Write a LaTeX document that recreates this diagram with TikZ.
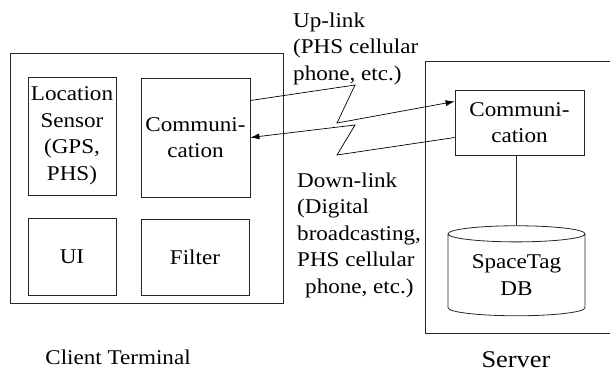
\documentclass[tikz,border=0pt]{standalone}
\usepackage{fontspec}
\setmainfont{Liberation Serif}[FakeStretch=1.1]
\usetikzlibrary{positioning,shapes.geometric,arrows.meta}

\begin{document}
\begin{tikzpicture}[x=1pt,y=-1pt,font=\fontsize{21}{26.5}\selectfont]
\tikzstyle{box}=[rectangle, draw=black!85, line width=0.8pt, inner sep=0pt, align=center]
\tikzstyle{connect}=[-{Latex[length=9pt,width=6pt]}, line width=0.7pt]
\tikzstyle{wire}=[line width=0.7pt, draw=black!85]
\tikzstyle{caption}=[anchor=base west, align=left, inner sep=0pt]

\useasboundingbox (0,0) rectangle (610,372);

% 1. Frames
%%%%%%%%%%%
\node[box, minimum width=273pt, minimum height=250pt] (client) at (146.5,178) {};
\node[box, minimum width=200pt, minimum height=272pt] (server) at (525,197) {};

% 2. Nodes
%%%%%%%%%%
\node[box, minimum width=88pt, minimum height=118pt] (loc) at (72,136) {Location\\Sensor\\(GPS,\\PHS)};
\node[box, minimum width=109pt, minimum height=119pt] (comm) at (195.5,137.5) {Communi-\\cation};
\node[box, minimum width=88pt, minimum height=77pt] (ui) at (72,256.5) {UI};
\node[box, minimum width=108pt, minimum height=76pt] (filter) at (195,257) {Filter};
\node[box, minimum width=129pt, minimum height=65pt] (scomm) at (519.5,122.5) {Communi-\\cation};
\node[box, cylinder, shape border rotate=90, aspect=0.18, minimum width=137pt, minimum height=90pt] (db) at (516.5,275) {SpaceTag\\DB};

% 3. Arrows
%%%%%%%%%%%
\coordinate (upA) at (355,85);
\coordinate (upB) at (337,123);
\coordinate (dnA) at (337,155);
\coordinate (dnB) at (355,125);
\draw[connect] ([yshift=37pt]comm.east) -- (upA) -- (upB) -- ([yshift=21pt]scomm.west);
\draw[connect] ([yshift=-15pt]scomm.west) -- (dnA) -- (dnB) -- (comm.east);
\draw[wire] (db.north |- scomm.south) -- (db.north);

% 4. Labels (base = last line)
%%%%%%%%%%%
\node[caption] (uplabel) at (293,80) {Up-link\\(PHS cellular\\phone, etc.)};
\node[caption] (downlabel) at (297,293) {Down-link\\(Digital\\broadcasting,\\PHS cellular\\\hspace*{8pt}phone, etc.)};
\node[anchor=base, inner sep=0pt] (clientlabel) at (118,364) {Client Terminal};
\node[anchor=base, inner sep=0pt, font=\fontsize{24}{28}\selectfont] (serverlabel) at (516,367) {Server};

\end{tikzpicture}
\end{document}
